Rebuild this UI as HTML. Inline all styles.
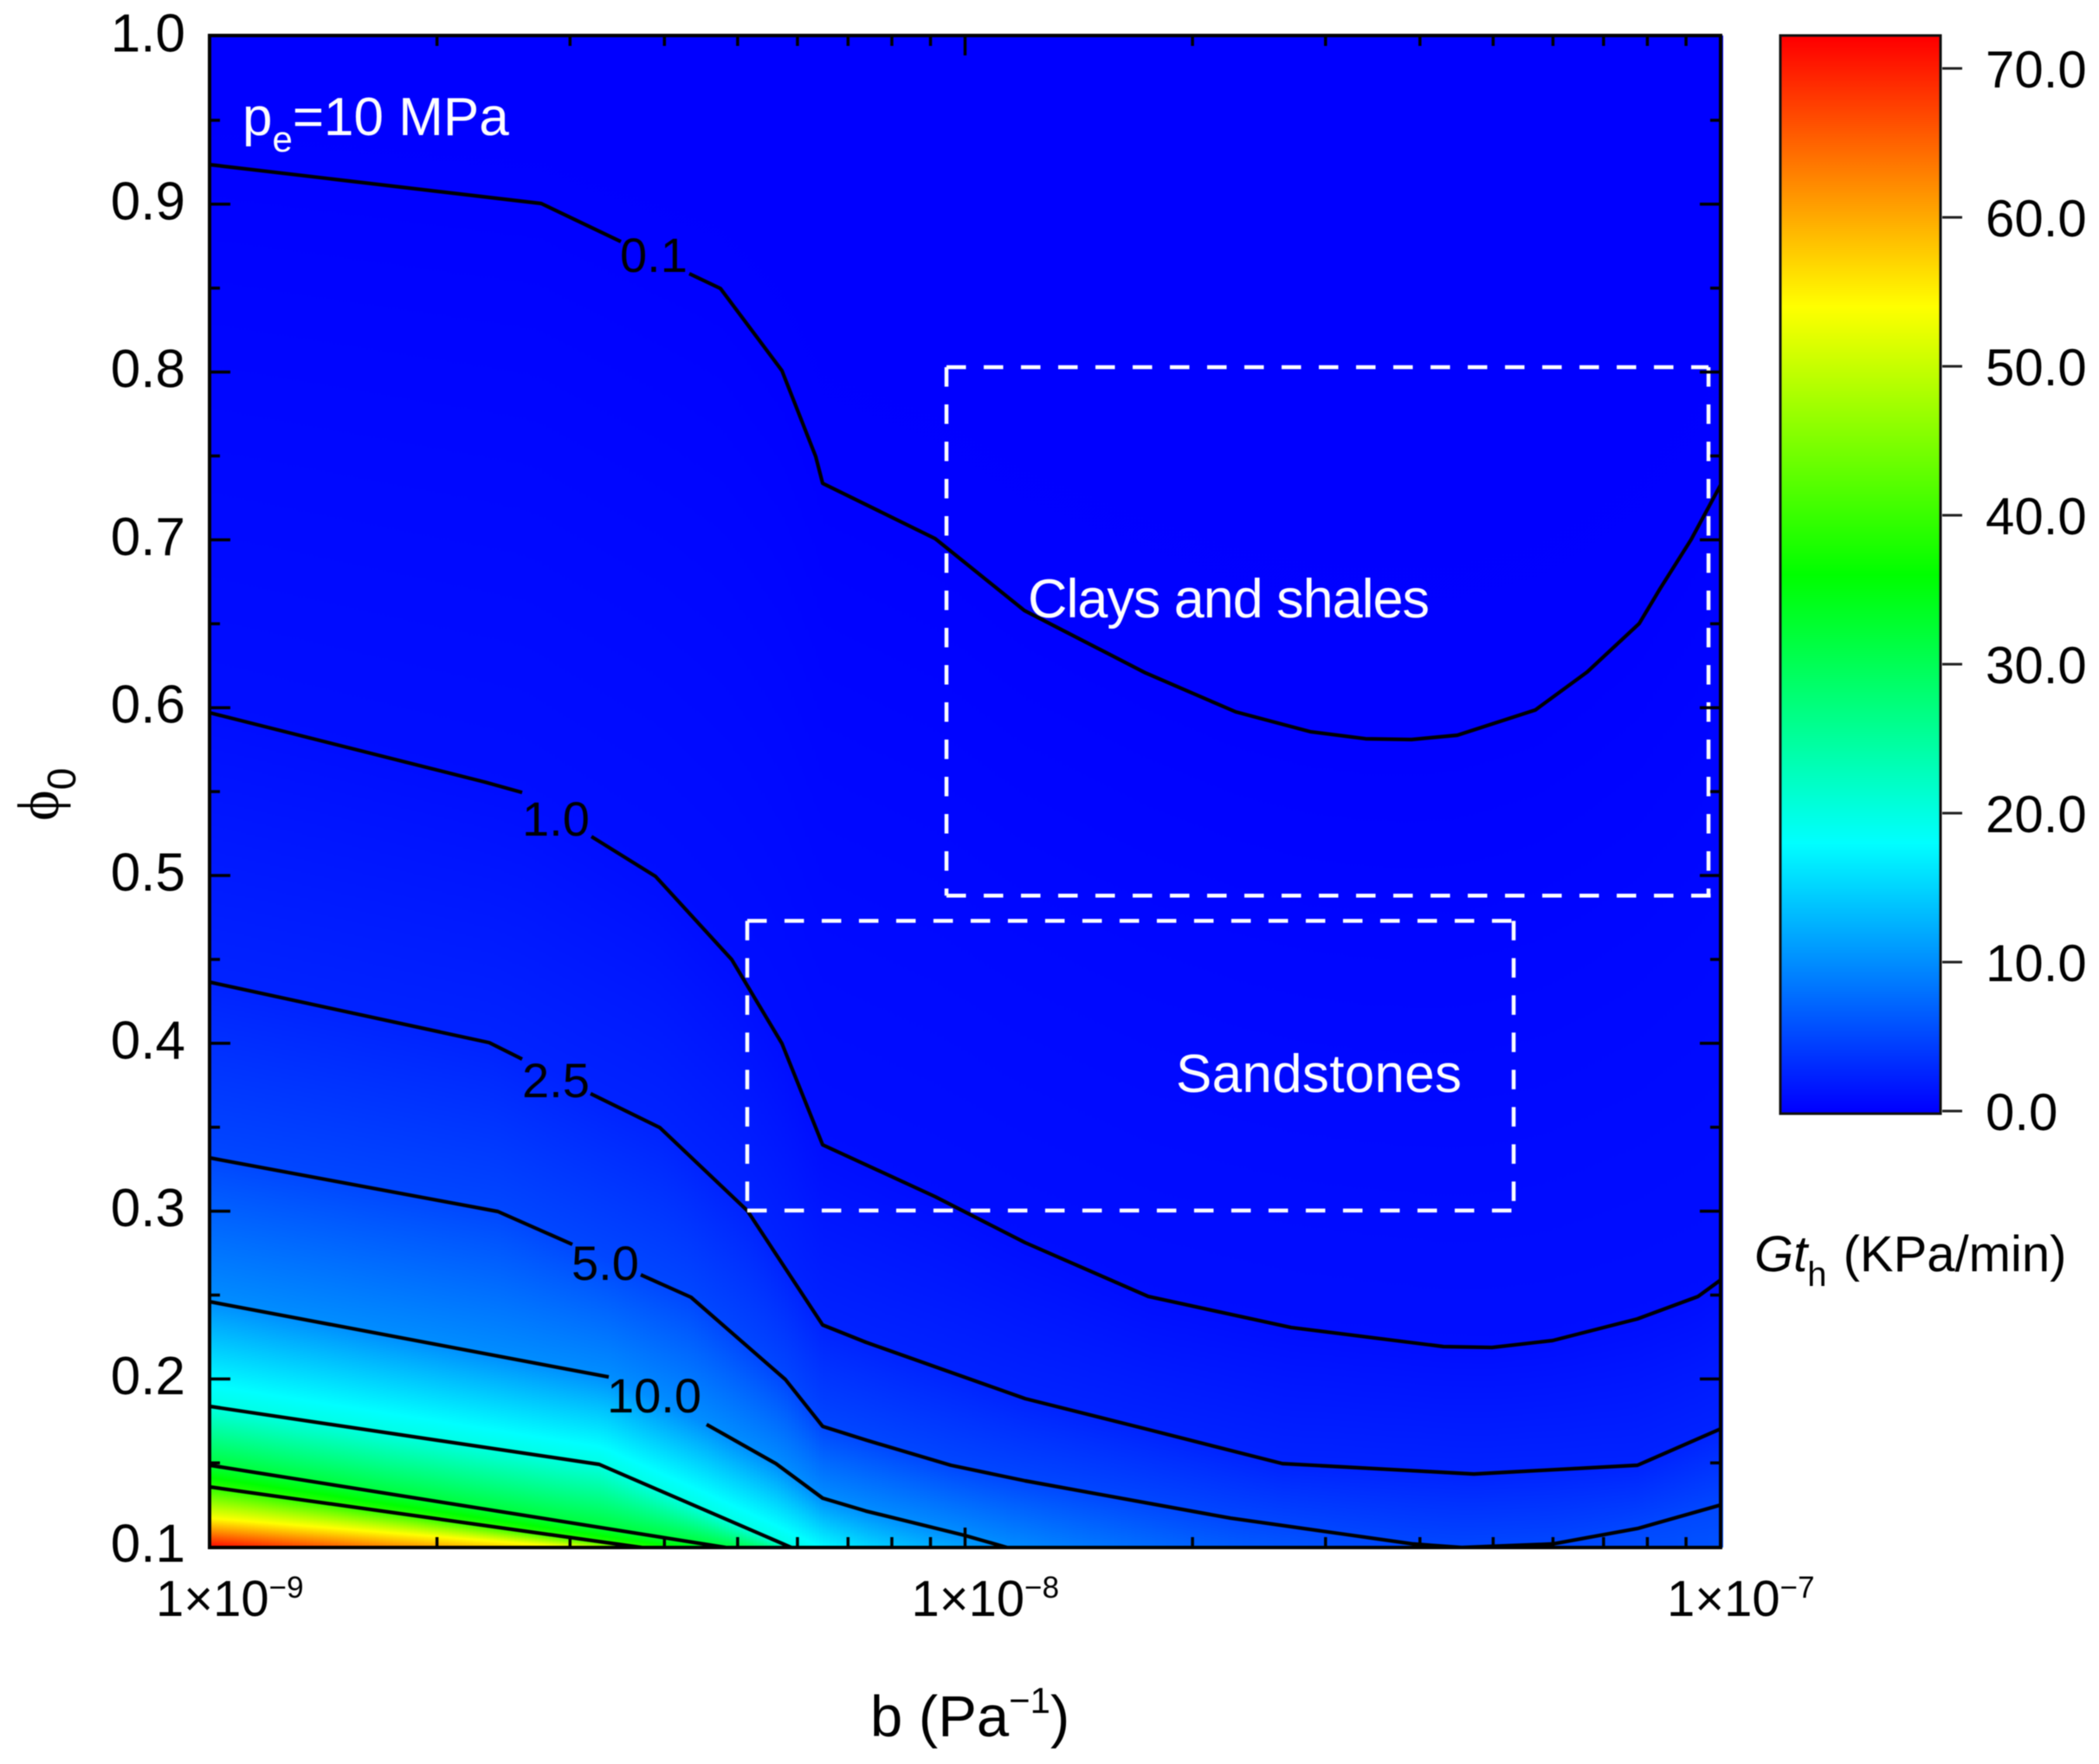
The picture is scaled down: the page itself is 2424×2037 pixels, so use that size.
<!DOCTYPE html>
<html lang="en">
<head>
<meta charset="utf-8">
<title>Gth contour map</title>
<style>
html,body{margin:0;padding:0;background:#fff;width:2424px;height:2037px;overflow:hidden}
svg{display:block;filter:blur(0.45px)}
text{font-family:"Liberation Sans",sans-serif;fill:#000}
</style>
</head>
<body>
<svg id="chart" xmlns="http://www.w3.org/2000/svg" width="2424" height="2037" viewBox="0 0 2424 2037">
<defs id="defs"><clipPath id="plot-clip"><rect x="242" y="41" width="1745" height="1746"/></clipPath></defs>
<g id="heat"></g>
<g id="contours" clip-path="url(#plot-clip)"></g>
<g id="regions"></g>
<g id="contour-labels"></g>
<g id="axes"></g>
<g id="colorbar"></g>
<text x="280" y="156" font-size="62" style="fill:#fff">p<tspan font-size="42" dy="19">e</tspan><tspan dy="-19">=10 MPa</tspan></text>
<text x="1187" y="713" font-size="63" textLength="464" style="fill:#fff">Clays and shales</text>
<text x="1358" y="1261" font-size="62" textLength="330" style="fill:#fff">Sandstones</text>
<text x="1005" y="2005" font-size="67">b (Pa<tspan font-size="42" dy="-27">−1</tspan><tspan dy="27">)</tspan></text>
<text transform="translate(67,948) rotate(-90)" font-size="68" style="font-family:'Liberation Serif','DejaVu Serif',serif">ϕ<tspan font-size="46" dy="20" style="font-family:'Liberation Sans',sans-serif">0</tspan></text>
<text x="2026" y="1468" font-size="58"><tspan font-style="italic">Gt</tspan><tspan font-size="40" dy="17">h</tspan><tspan dy="-17" dx="3"> (KPa/min)</tspan></text>
</svg>
<script>
// ---- Data (log10 of b, and porosity phi0) ----
const levelValues = [0.1, 1, 2.5, 5, 10, 20, 32, 39];

const contour01LogB = [-9,-8.561,-8.4556,-8.365,-8.3238,-8.2424,-8.1977,-8.1885,-8.0395,-7.9215,-7.761,-7.6418,-7.5433,-7.4699,-7.4092,-7.3484,-7.2453,-7.1765,-7.1077,-7.0802,-7.039,-7];
const contour01Phi = [0.9236,0.9004,0.8777,0.8586,0.8498,0.8008,0.7497,0.7337,0.7007,0.6579,0.6207,0.5975,0.5857,0.5815,0.5810,0.5836,0.5986,0.6213,0.6501,0.6708,0.7002,0.7327];

const contour1LogB = [-9,-8.6355,-8.5862,-8.4946,-8.4097,-8.3089,-8.2424,-8.1885,-8.0395,-7.9203,-7.7576,-7.5685,-7.3668,-7.3026,-7.2223,-7.11,-7.0298,-7];
const contour1Phi = [0.5970,0.5557,0.5495,0.5232,0.4995,0.4499,0.3999,0.3395,0.3086,0.2812,0.2492,0.2307,0.2193,0.2188,0.2229,0.2358,0.2492,0.2590];

const contour25LogB = [-9,-8.6298,-8.5862,-8.4957,-8.404,-8.2883,-8.1885,-8.1312,-7.9203,-7.761,-7.5799,-7.3266,-7.11,-7];
const contour25Phi = [0.4365,0.4004,0.3906,0.3700,0.3498,0.3003,0.2322,0.2219,0.1883,0.1703,0.1496,0.1434,0.1486,0.1703];

const contour5LogB = [-9,-8.6183,-8.5198,-8.4292,-8.3628,-8.2378,-8.1885,-8.1312,-8.0189,-7.9203,-7.6487,-7.4069,-7.3427,-7.2223,-7.11,-7];
const contour5Phi = [0.3318,0.2998,0.2802,0.2621,0.2487,0.1997,0.1718,0.1636,0.1486,0.1393,0.1171,0.1017,0.0996,0.1017,0.1109,0.1249];

const contour10LogB = [-9,-8.4716,-8.3421,-8.2504,-8.1885,-8.1312,-8.0006,-7.9444];
const contour10Phi = [0.2461,0.2012,0.1729,0.1496,0.1290,0.1213,0.1068,0.0996];

const contour20LogB = [-9,-8.4842,-8.2298];
const contour20Phi = [0.1837,0.1491,0.0996];

const contour33LogB = [-9,-8.3169];
const contour33Phi = [0.1486,0.0996];

const contour40LogB = [-9,-8.4281];
const contour40Phi = [0.1357,0.0996];

// Unlined iso-values that shape the hot corner of the field
const shadingLevels = [54, 72];
const shading54LogB = [-9,-8.5209];
const shading54Phi = [0.1171,0.0996];
const shading72LogB = [-9,-8.5209];
const shading72Phi = [0.0996,0.0820];

// index of the vertex after which the line stops for its inline label
const contourLabelBreaks = [2, 2, 2, 2, 1, -1, -1, -1];
const contourLabelTexts = ["0.1", "1.0", "2.5", "5.0", "10.0"];
const contourLabelLogB = [-8.4567,-8.5862,-8.5862,-8.5209,-8.4739];
const contourLabelPhi = [0.8596,0.5237,0.3679,0.2590,0.1801];

const yMajorTicks = [1.0,0.9,0.8,0.7,0.6,0.5,0.4,0.3,0.2,0.1];
const yMinorTicks = [0.95,0.85,0.75,0.65,0.55,0.45,0.35,0.25,0.15];
const yTickLabels = ["1.0","0.9","0.8","0.7","0.6","0.5","0.4","0.3","0.2","0.1"];
const xDecades = [-9,-8,-7];
const xDecadeLabels = ["−9","−8","−7"];
const xMinorMultiples = [2,3,4,5,6,7,8,9];

const colorbarTicks = [0,10,20,30,40,50,60,70];
const colorbarTickLabels = ["0.0","10.0","20.0","30.0","40.0","50.0","60.0","70.0"];
const colormapValues = [0,18,36,54,72];
const colormapColors = [[0,0,255],[0,255,255],[0,255,0],[255,255,0],[255,0,0]];

const claysRegionLogB = [-8.0246,-7.0160];
const claysRegionPhi = [0.8029,0.4880];
const sandRegionLogB = [-8.2883,-7.2739];
const sandRegionPhi = [0.4730,0.3004];

// ---- Scales ----
const plotLeft = 242, plotRight = 1987, plotTop = 41, plotBottom = 1787;
const xScale = e => 242 + (e + 9) * 872.5;
const yScale = p => 42 + (1 - p) * 1938;
const xInverse = px => (px - 242) / 872.5 - 9;
const cbScale = v => 1283 - 17.2 * v;

const NS = 'http://www.w3.org/2000/svg';
function make(tag, attrs, parent) {
  const el = document.createElementNS(NS, tag);
  for (const k in attrs) el.setAttribute(k, attrs[k]);
  if (parent) parent.appendChild(el);
  return el;
}
function colorAt(v) {
  const vs = colormapValues, cs = colormapColors;
  if (v <= vs[0]) return cs[0];
  for (let i = 1; i < vs.length; i++) {
    if (v <= vs[i]) {
      const t = (v - vs[i-1]) / (vs[i] - vs[i-1]);
      return cs[i].map((c, j) => Math.round(cs[i-1][j] + (c - cs[i-1][j]) * t));
    }
  }
  return cs[cs.length - 1];
}
const rgb = c => 'rgb(' + c.join(',') + ')';

const defs = document.getElementById('defs');

// ---- Field: column gradients interpolated between iso-lines ----
const lineLogB = [contour01LogB, contour1LogB, contour25LogB, contour5LogB, contour10LogB, contour20LogB, contour33LogB, contour40LogB];
const linePhi = [contour01Phi, contour1Phi, contour25Phi, contour5Phi, contour10Phi, contour20Phi, contour33Phi, contour40Phi];
const fieldLevels = levelValues.concat(shadingLevels);
const fieldLogB = lineLogB.concat([shading54LogB, shading72LogB]);
const fieldPhi = linePhi.concat([shading54Phi, shading72Phi]);

function crossing(logB, phi, e) {
  const n = logB.length;
  let i = 0;
  while (i < n - 2 && e > logB[i + 1]) i++;
  const t = (e - logB[i]) / (logB[i + 1] - logB[i]);
  return yScale(phi[i] + (phi[i + 1] - phi[i]) * t);
}

const heat = document.getElementById('heat');
const columnWidth = 4;
for (let px = plotLeft, idx = 0; px < plotRight; px += columnWidth, idx++) {
  const e = xInverse(px + columnWidth / 2);
  const pts = [[plotTop, 0]];
  let last = plotTop;
  fieldLevels.forEach((lv, k) => {
    let y = crossing(fieldLogB[k], fieldPhi[k], e);
    if (y <= last) y = last + 0.5;
    last = y;
    pts.push([y, lv]);
  });
  const seq = [];
  for (let i = 0; i < pts.length; i++) {
    seq.push(pts[i]);
    if (i < pts.length - 1) {
      const a = pts[i], b = pts[i + 1];
      colormapValues.forEach(cv => {
        if (cv > a[1] && cv < b[1]) {
          seq.push([a[0] + (b[0] - a[0]) * (cv - a[1]) / (b[1] - a[1]), cv]);
        }
      });
    }
  }
  const gid = 'col' + idx;
  const grad = make('linearGradient', {id: gid, gradientUnits: 'userSpaceOnUse', x1: 0, x2: 0, y1: plotTop, y2: plotBottom}, defs);
  const span = plotBottom - plotTop;
  let stopped = false;
  for (let i = 0; i < seq.length && !stopped; i++) {
    let off = (seq[i][0] - plotTop) / span;
    let val = seq[i][1];
    if (off > 1) {
      const p = seq[i - 1];
      val = p[1] + (seq[i][1] - p[1]) * (plotBottom - p[0]) / (seq[i][0] - p[0]);
      off = 1;
      stopped = true;
    }
    make('stop', {offset: off.toFixed(5), 'stop-color': rgb(colorAt(val))}, grad);
  }
  const col = make('rect', {x: px, y: plotTop, width: columnWidth, height: span, fill: 'url(#' + gid + ')', 'shape-rendering': 'crispEdges'}, heat);
  
  
}

// ---- Contour lines ----
const contourGroup = document.getElementById('contours');
lineLogB.forEach((logB, k) => {
  const brk = contourLabelBreaks[k];
  let d = '';
  logB.forEach((e, i) => {
    const lift = i === 0 || i === brk + 1;
    d += (lift ? 'M' : 'L') + xScale(e).toFixed(1) + ' ' + yScale(linePhi[k][i]).toFixed(1);
  });
  const line = make('path', {d: d, fill: 'none', stroke: '#000', 'stroke-width': 4.2, 'stroke-linejoin': 'round'}, contourGroup);
  
  
});

const labelGroup = document.getElementById('contour-labels');
contourLabelTexts.forEach((t, i) => {
  const lab = make('text', {x: xScale(contourLabelLogB[i]).toFixed(1), y: yScale(contourLabelPhi[i]).toFixed(1), 'font-size': 56}, labelGroup);
  lab.textContent = t;
  
  
});

// ---- Dashed regions ----
const regionGroup = document.getElementById('regions');
function drawRegion(logB, phi, extra) {
  const x0 = xScale(logB[0]), x1 = xScale(logB[1]), y0 = yScale(phi[0]), y1 = yScale(phi[1]);
  const segs = [[x0,y0,x1,y0],[x0,y0,x0,y1],[x0,y1,x1 + extra,y1],[x1,y0,x1,y1]];
  segs.forEach(s => {
    const seg = make('line', {x1: s[0], y1: s[1], x2: s[2], y2: s[3], stroke: '#fff', 'stroke-width': 4.5, 'stroke-dasharray': '22.5 20.5'}, regionGroup);
    
    
  });
}
drawRegion(claysRegionLogB, claysRegionPhi, 3);
drawRegion(sandRegionLogB, sandRegionPhi, 0);

// ---- Axes ----
const axes = document.getElementById('axes');
function tick(x1, y1, x2, y2) {
  const t = make('line', {x1: x1, y1: y1, x2: x2, y2: y2, stroke: '#000', 'stroke-width': 3.5}, axes);
  
  
}
yMajorTicks.forEach((v, i) => {
  const y = yScale(v);
  if (v > 0.1 && v < 1) {
    tick(plotLeft, y, plotLeft + 24, y);
    tick(plotRight, y, plotRight - 24, y);
  }
  const lab = make('text', {x: 214, y: (y + 17.5).toFixed(1), 'font-size': 62, 'text-anchor': 'end'}, axes);
  lab.textContent = yTickLabels[i];
  
  
});
yMinorTicks.forEach(v => {
  const y = yScale(v);
  tick(plotLeft, y, plotLeft + 12, y);
  tick(plotRight, y, plotRight - 12, y);
});
xDecades.forEach((d, i) => {
  const x = xScale(d);
  if (d > -9 && d < -7) {
    tick(x, plotTop, x, plotTop + 23);
    tick(x, plotBottom, x, plotBottom - 23);
  }
  if (d < -7) {
    xMinorMultiples.forEach(m => {
      const mx = xScale(d + Math.log10(m));
      tick(mx, plotTop, mx, plotTop + 12);
      tick(mx, plotBottom, mx, plotBottom - 12);
    });
  }
  const lab = make('text', {x: x - 62, y: 1866, 'font-size': 58}, axes);
  lab.appendChild(document.createTextNode('1×10'));
  const sup = make('tspan', {'font-size': 35, dy: -21}, lab);
  sup.textContent = xDecadeLabels[i];
  
  
});
const frame = make('rect', {x: plotLeft, y: plotTop, width: plotRight - plotLeft, height: plotBottom - plotTop, fill: 'none', stroke: '#000', 'stroke-width': 4}, axes);



// ---- Colour bar ----
const bar = document.getElementById('colorbar');
const barGrad = make('linearGradient', {id: 'bar-gradient', gradientUnits: 'userSpaceOnUse', x1: 0, x2: 0, y1: cbScale(72), y2: cbScale(0)}, defs);
colormapValues.slice().reverse().forEach(v => {
  make('stop', {offset: (1 - v / 72).toFixed(4), 'stop-color': rgb(colorAt(v))}, barGrad);
});
const barRect = make('rect', {x: 2056, y: 41, width: 185, height: 1245, fill: 'url(#bar-gradient)', stroke: '#111', 'stroke-width': 3}, bar);


colorbarTicks.forEach((v, i) => {
  const y = cbScale(v);
  const t = make('line', {x1: 2243, y1: y, x2: 2266, y2: y, stroke: '#222', 'stroke-width': 3}, bar);
  
  
  const lab = make('text', {x: 2293, y: (y + 22).toFixed(1), 'font-size': 60}, bar);
  lab.textContent = colorbarTickLabels[i];
  
  
});
</script>
</body>
</html>
